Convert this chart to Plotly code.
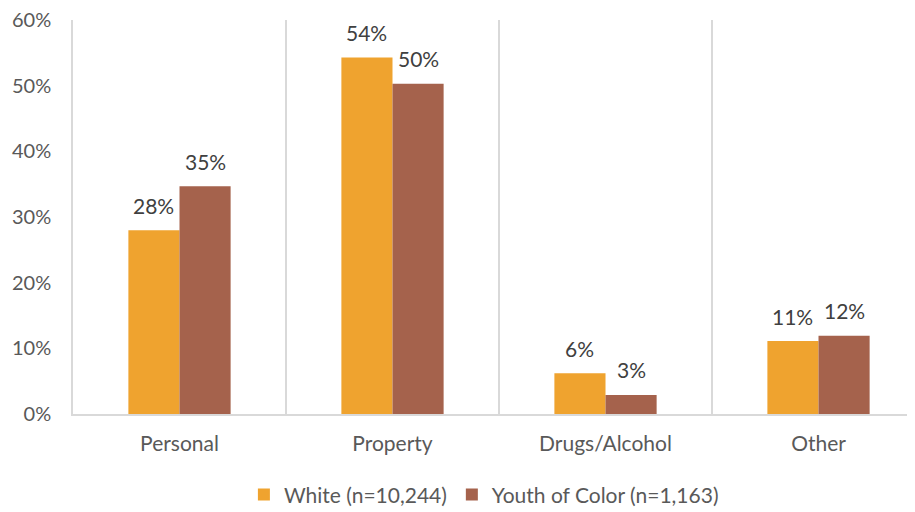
import plotly.graph_objects as go

categories = ["Personal", "Property", "Drugs/Alcohol", "Other"]
white = [0.280, 0.543, 0.062, 0.111]
youth_color = [0.347, 0.503, 0.029, 0.119]
white_labels = ["28%", "54%", "6%", "11%"]
youth_labels = ["35%", "50%", "3%", "12%"]
y_ticks = [0, 0.1, 0.2, 0.3, 0.4, 0.5, 0.6]
y_tick_labels = ["0%", "10%", "20%", "30%", "40%", "50%", "60%"]

ORANGE = "#EFA32F"
BROWN = "#A5624C"
TEXT = "#404040"
AXIS_TEXT = "#595959"
GRID = "#D9D9D9"
FONT = "Lato, 'Open Sans', sans-serif"

xs = list(range(len(categories)))
bar_w = 0.24

fig = go.Figure()
fig.add_trace(go.Bar(x=xs, y=white, name="White (n=10,244)", marker_color=ORANGE,
                     width=bar_w, offset=-bar_w, marker_line_width=0))
fig.add_trace(go.Bar(x=xs, y=youth_color, name="Youth of Color (n=1,163)", marker_color=BROWN,
                     width=bar_w, offset=0, marker_line_width=0))

annotations = []
for i in xs:
    annotations.append(dict(x=i - bar_w / 2, y=white[i], xref="x", yref="y", text=white_labels[i],
                            showarrow=False, yanchor="middle", yshift=25,
                            font=dict(size=21, color=TEXT, family=FONT)))
    annotations.append(dict(x=i + bar_w / 2, y=youth_color[i], xref="x", yref="y", text=youth_labels[i],
                            showarrow=False, yanchor="middle", yshift=25,
                            font=dict(size=21, color=TEXT, family=FONT)))

fig.update_layout(
    width=907, height=504,
    margin=dict(l=65, r=0, t=12, b=98, autoexpand=False),
    paper_bgcolor="white", plot_bgcolor="white",
    font=dict(family=FONT, size=20, color=AXIS_TEXT),
    barmode="group",
    showlegend=True,
    legend=dict(orientation="h", x=0.488, xanchor="center", y=-0.205, yanchor="middle",
                font=dict(size=21, color=AXIS_TEXT), itemwidth=30, traceorder="normal"),
    annotations=annotations,
)
fig.update_xaxes(
    range=[-0.5, 3.453], tickvals=xs, ticktext=categories,
    showgrid=False, showline=True, linecolor=GRID, linewidth=1.5,
    ticks="", zeroline=False, automargin=False, ticklabelstandoff=10,
    minor=dict(tick0=0.5, dtick=1, showgrid=True, gridcolor=GRID, gridwidth=1.5, ticks=""),
    tickfont=dict(size=21, color=AXIS_TEXT), fixedrange=True,
)
fig.update_yaxes(
    range=[0, 0.6], tickvals=y_ticks, ticktext=y_tick_labels,
    showgrid=False, showline=True, linecolor=GRID, linewidth=1.5, zeroline=False,
    ticks="", ticklabelstandoff=16, automargin=False, ticklabeloverflow="allow",
    tickfont=dict(size=20, color=AXIS_TEXT),
)

fig.write_html("out.html")
